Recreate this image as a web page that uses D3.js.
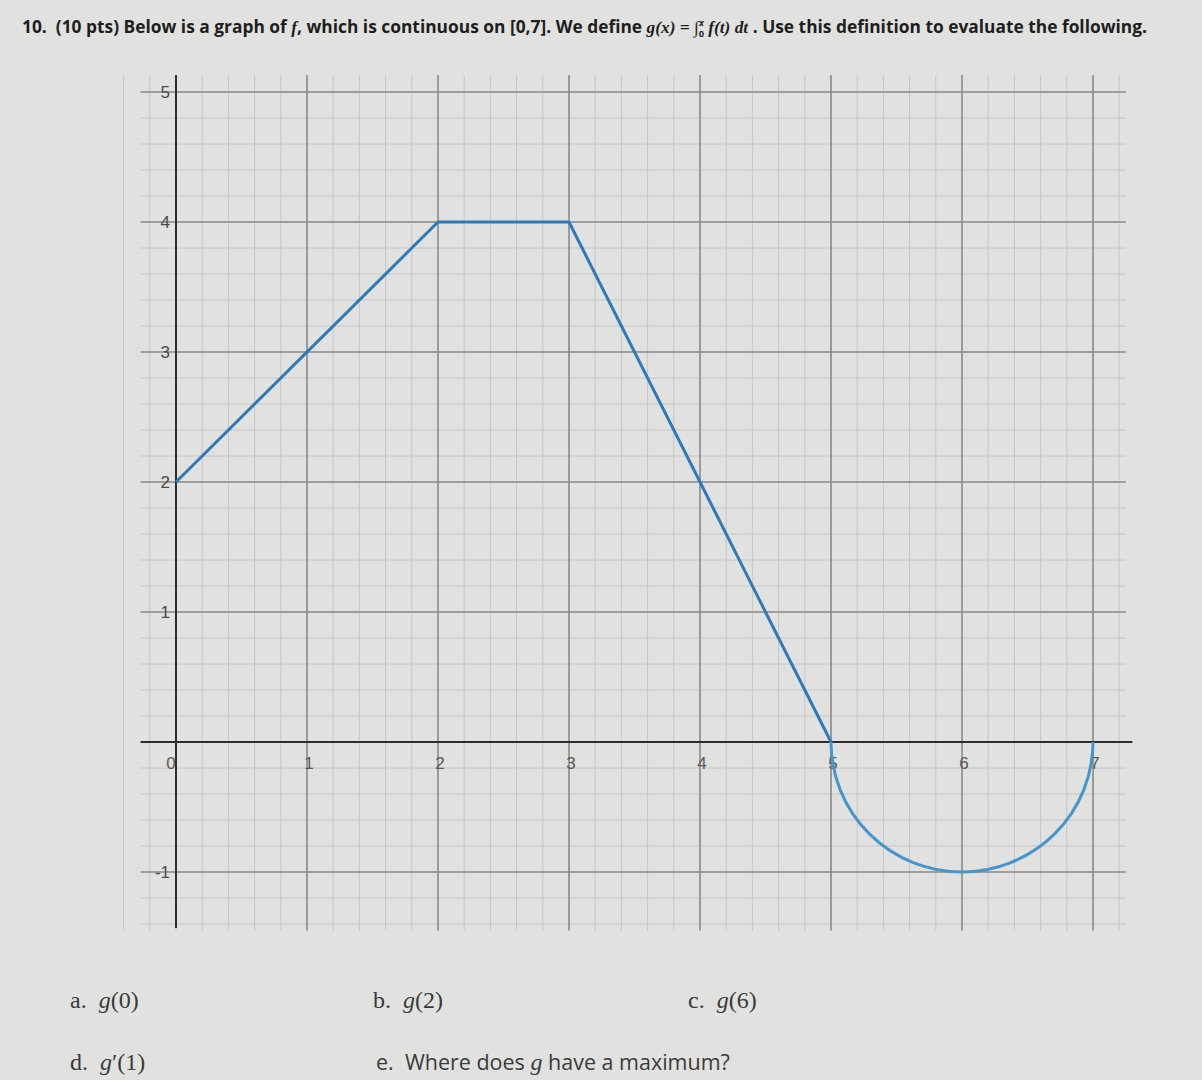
<!DOCTYPE html>
<head>
<meta charset="utf-8">
<title>Graph of f</title>
<script src="https://d3js.org/d3.v7.min.js"></script>
<style>
  body { margin: 0; background: #e1e1df; }
  svg { display: block; }
  text { white-space: pre; }
</style>
</head>
<body>
<div id="chart"></div>
<script>
  // data
  var lineX = [0, 2, 3, 5];
  var lineY = [2, 4, 4, 0];
  var arcCenter = [6, 0], arcRadius = 1;   // lower half circle on [5,7]
  var xTicks = [0, 1, 2, 3, 4, 5, 6, 7];
  var yTicks = [-1, 1, 2, 3, 4, 5];
  var xMinor = d3.range(-2, 37).map(function(d) { return d / 5; });
  var yMinor = d3.range(-7, 26).map(function(d) { return d / 5; });

  var width = 1202, height = 1080;

  var svg = d3.select("#chart")
    .append("svg")
      .attr("width", width)
      .attr("height", height);

  var x = d3.scaleLinear().domain([0, 7]).range([176, 1093]);
  var y = d3.scaleLinear().domain([-1, 5]).range([872, 92]);

  var gTop = y(5.13), gBottom = y(-1.45), gLeft = x(-0.27), gRight = x(7.25);

  // title
  var title = svg.append("text")
    .attr("x", 22)
    .attr("y", 33)
    .attr("textLength", 1125)
    .attr("lengthAdjust", "spacingAndGlyphs")
    .style("font-family", "'Open Sans', sans-serif")
    .style("font-weight", "bold")
    .style("font-size", "17px")
    .style("fill", "#1e1e1e");
  title.append("tspan").text("10.  (10 pts) Below is a graph of ");
  title.append("tspan").style("font-style", "italic").style("font-family", "'Liberation Serif', serif").text("f");
  title.append("tspan").text(", which is continuous on [0,7]. We define ");
  title.append("tspan").style("font-style", "italic").style("font-family", "'Liberation Serif', serif").text("g(x) = ");
  title.append("tspan").style("font-family", "'Liberation Serif', serif").text("\u222B");
  title.append("tspan").style("font-size", "9px").attr("dy", 4).text("0");
  title.append("tspan").style("font-size", "9px").style("font-style", "italic").attr("dy", -11).attr("dx", -5).text("x");
  title.append("tspan").attr("dy", 7).style("font-style", "italic").style("font-family", "'Liberation Serif', serif").text(" f(t) dt");
  title.append("tspan").text(" . Use this definition to evaluate the following.");

  // minor grid
  svg.append("g")
    .selectAll("line")
    .data(xMinor)
    .enter()
    .append("line")
      .attr("x1", function(d) { return x(d); })
      .attr("x2", function(d) { return x(d); })
      .attr("y1", gTop)
      .attr("y2", gBottom)
      .style("stroke", "#c6c6c6")
      .style("stroke-width", 1);

  svg.append("g")
    .selectAll("line")
    .data(yMinor)
    .enter()
    .append("line")
      .attr("x1", gLeft)
      .attr("x2", gRight)
      .attr("y1", function(d) { return y(d); })
      .attr("y2", function(d) { return y(d); })
      .style("stroke", "#c6c6c6")
      .style("stroke-width", 1);

  // major grid
  svg.append("g")
    .selectAll("line")
    .data(xTicks.filter(function(d) { return d > 0; }))
    .enter()
    .append("line")
      .attr("x1", function(d) { return x(d); })
      .attr("x2", function(d) { return x(d); })
      .attr("y1", gTop)
      .attr("y2", gBottom)
      .style("stroke", "#8c8c8c")
      .style("stroke-width", 1.6);

  svg.append("g")
    .selectAll("line")
    .data(yTicks)
    .enter()
    .append("line")
      .attr("x1", gLeft)
      .attr("x2", gRight)
      .attr("y1", function(d) { return y(d); })
      .attr("y2", function(d) { return y(d); })
      .style("stroke", "#8c8c8c")
      .style("stroke-width", 1.6);

  // axes
  svg.append("line")
    .attr("x1", gLeft).attr("x2", x(7.3))
    .attr("y1", y(0)).attr("y2", y(0))
    .style("stroke", "#2c2c2c")
    .style("stroke-width", 2);

  svg.append("line")
    .attr("x1", x(0)).attr("x2", x(0))
    .attr("y1", gTop).attr("y2", y(-1.43))
    .style("stroke", "#2c2c2c")
    .style("stroke-width", 2);

  // tick labels
  svg.append("g")
    .selectAll("text")
    .data(yTicks)
    .enter()
    .append("text")
      .attr("x", x(0) - 6)
      .attr("y", function(d) { return y(d) + 6; })
      .attr("text-anchor", "end")
      .style("font-family", "'Liberation Sans', Arial, sans-serif")
      .style("font-size", "17px")
      .style("fill", "#4a4a4a")
      .text(function(d) { return d; });

  svg.append("g")
    .selectAll("text")
    .data(xTicks)
    .enter()
    .append("text")
      .attr("x", function(d) { return d === 0 ? x(d) - 5 : x(d) + 2; })
      .attr("y", y(0) + 27)
      .attr("text-anchor", "middle")
      .style("font-family", "'Liberation Sans', Arial, sans-serif")
      .style("font-size", "17px")
      .style("fill", "#5a5a5a")
      .text(function(d) { return d; });

  // graph of f
  var line = d3.line()
    .x(function(d) { return x(d[0]); })
    .y(function(d) { return y(d[1]); });

  svg.append("path")
    .datum(d3.zip(lineX, lineY))
    .attr("d", line)
    .style("fill", "none")
    .style("stroke", "#2f79b8")
    .style("stroke-width", 3)
    .style("stroke-linejoin", "round");

  var rx = x(arcCenter[0] + arcRadius) - x(arcCenter[0]);
  var ry = y(arcCenter[1] - arcRadius) - y(arcCenter[1]);
  svg.append("path")
    .attr("d", "M" + x(arcCenter[0] - arcRadius) + "," + y(arcCenter[1]) +
               " A" + rx + "," + ry + " 0 0 0 " + x(arcCenter[0] + arcRadius) + "," + y(arcCenter[1]))
    .style("fill", "none")
    .style("stroke", "#4596cc")
    .style("stroke-width", 3);

  // questions
  var questions = [
    { x: 70, y: 1008, label: "a.", expr: "g(0)" },
    { x: 373, y: 1008, label: "b.", expr: "g(2)" },
    { x: 688, y: 1008, label: "c.", expr: "g(6)" },
    { x: 70, y: 1070, label: "d.", expr: "g\u2032(1)" }
  ];

  questions.forEach(function(q) {
    var t = svg.append("text")
      .attr("x", q.x)
      .attr("y", q.y)
      .style("font-family", "'Liberation Serif', serif")
      .style("font-size", "24px")
      .style("fill", "#3a3a3a");
    t.append("tspan").text(q.label + "  ");
    t.append("tspan").style("font-style", "italic").text(q.expr.charAt(0));
    t.append("tspan").text(q.expr.slice(1));
  });

  var qe = svg.append("text")
    .attr("x", 376)
    .attr("y", 1070)
    .style("font-family", "'Open Sans', sans-serif")
    .style("font-size", "21.5px")
    .style("fill", "#3a3a3a");
  qe.append("tspan").text("e.  Where does ");
  qe.append("tspan").style("font-family", "'Liberation Serif', serif").style("font-style", "italic").style("font-size", "24px").text("g");
  qe.append("tspan").text(" have a maximum?");
</script>
</body>
